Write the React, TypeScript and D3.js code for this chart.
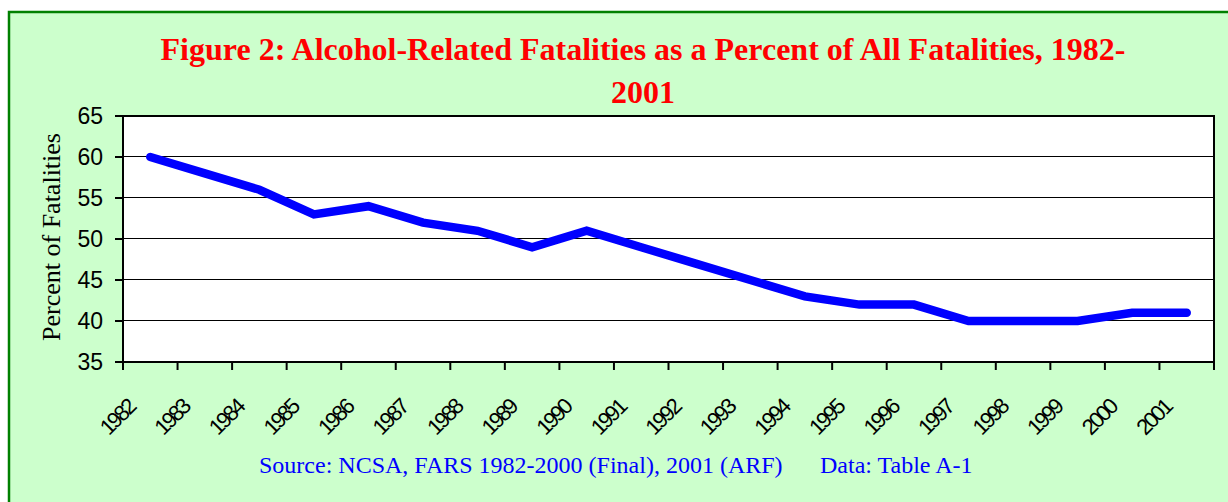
import React from 'react';
import * as d3 from 'd3';

const years = ['1982', '1983', '1984', '1985', '1986', '1987', '1988', '1989', '1990', '1991',
  '1992', '1993', '1994', '1995', '1996', '1997', '1998', '1999', '2000', '2001'];
const percents = [60, 58, 56, 53, 54, 52, 51, 49, 51, 49, 47, 45, 43, 42, 42, 40, 40, 40, 41, 41];
const yTicks = [35, 40, 45, 50, 55, 60, 65];

const W = 1228;
const H = 502;
const plot = { left: 123, right: 1214, top: 116, bottom: 362 };

const App: React.FC = () => {
  const x = d3.scaleBand<string>()
    .domain(years)
    .range([plot.left, plot.right]);
  const y = d3.scaleLinear()
    .domain([35, 65])
    .range([plot.bottom, plot.top]);

  const line = d3.line<number>()
    .x((_, i) => (x(years[i]) || 0) + x.bandwidth() / 2)
    .y(d => y(d));

  const boundaries = years.map(yr => x(yr) || 0).concat([plot.right]);

  return (
    <svg width={W} height={H} style={{ position: 'absolute', left: 0, top: 0 }}>
      <rect x={9} y={12} width={W + 20} height={H + 20} fill="#CCFFCC" stroke="#008000" strokeWidth={2.5} />

      {/* title */}
      <g fill="#FF0000" fontFamily="'Liberation Serif', 'Times New Roman', serif" fontWeight="bold" fontSize={32} textAnchor="middle">
        <text x={643} y={60}>Figure 2: Alcohol-Related Fatalities as a Percent of All Fatalities, 1982-</text>
        <text x={643} y={103}>2001</text>
      </g>

      {/* plot area */}
      <rect x={plot.left} y={plot.top} width={plot.right - plot.left} height={plot.bottom - plot.top} fill="#FFFFFF" />
      {yTicks.slice(1, -1).map(t => (
        <line key={t} x1={plot.left} x2={plot.right} y1={Math.round(y(t)) - 0.5} y2={Math.round(y(t)) - 0.5}
          stroke="#000" strokeWidth={1} />
      ))}
      <rect x={plot.left} y={plot.top} width={plot.right - plot.left} height={plot.bottom - plot.top}
        fill="none" stroke="#000" strokeWidth={2} />

      {/* y axis */}
      <g fontFamily="'Liberation Sans', Arial, sans-serif" fontSize={23} fill="#000">
        {yTicks.map(t => (
          <g key={t}>
            <line x1={plot.left - 8} x2={plot.left} y1={y(t)} y2={y(t)} stroke="#000" strokeWidth={2} />
            <text x={103} y={y(t) + 8.3} textAnchor="end">{t}</text>
          </g>
        ))}
      </g>
      <text transform="translate(60,237) rotate(-90)" textAnchor="middle"
        fontFamily="'Liberation Serif', 'Times New Roman', serif" fontSize={26} fill="#000">Percent of Fatalities</text>

      {/* x axis */}
      {boundaries.map((b, i) => (
        <line key={i} x1={b} x2={b} y1={plot.bottom} y2={plot.bottom + 8} stroke="#000" strokeWidth={2} />
      ))}
      <g fontFamily="'Liberation Sans', Arial, sans-serif" fontSize={22} fill="#000" letterSpacing={-2.6}>
        {years.map(yr => {
          const cx = (x(yr) || 0) + x.bandwidth() / 2;
          return (
            <text key={yr} transform={`translate(${cx - 14},${plot.bottom + 47}) rotate(-45)`} textAnchor="end">{yr}</text>
          );
        })}
      </g>

      {/* data line */}
      <path d={line(percents) || ''} fill="none" stroke="#0000FF" strokeWidth={8.5}
        strokeLinejoin="miter" strokeLinecap="round" />

      {/* source */}
      <g fontFamily="'Liberation Serif', 'Times New Roman', serif" fontSize={24} fill="#0000FF">
        <text x={259} y={473}>Source: NCSA, FARS 1982-2000 (Final), 2001 (ARF)</text>
        <text x={820} y={473}>Data: Table A-1</text>
      </g>
    </svg>
  );
};

export default App;
